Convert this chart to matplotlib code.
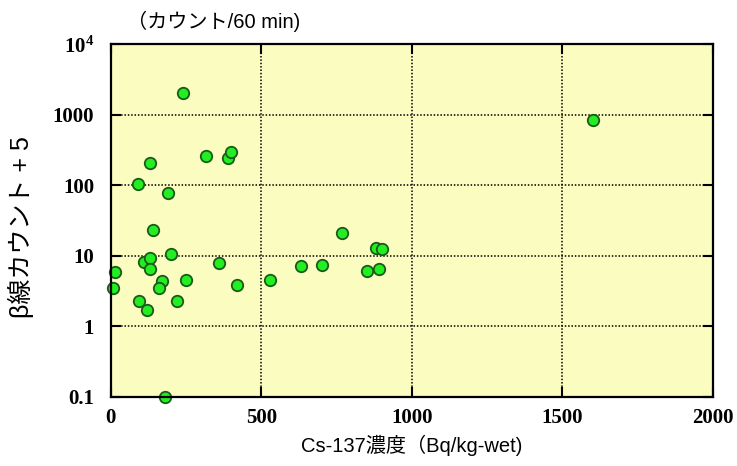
"""
plot.py — Cs-137 concentration vs. beta counts (log scale)

Scatter of beta-ray counts (+5 offset, per 60 min) against Cs-137
concentration in Bq/kg-wet. Saves out.png.
"""

import matplotlib
matplotlib.use("Agg")
import matplotlib.pyplot as plt
from matplotlib.ticker import FixedLocator, FixedFormatter, NullLocator

# ---------------------------------------------------------------------------
# Data
# ---------------------------------------------------------------------------
cs137_conc = [240, 130, 316, 388, 398, 90, 191, 141, 200, 109, 131, 130,
              13, 8, 171, 161, 250, 358, 418, 530, 94, 221, 121, 181,
              768, 880, 900, 631, 702, 850, 890, 1600]
beta_counts = [2060, 210, 256, 243, 299, 104, 77, 23.5, 10.5, 8.2, 9.2, 6.4,
               5.8, 3.5, 4.35, 3.5, 4.5, 7.9, 3.9, 4.5, 2.25, 2.25, 1.7, 0.1,
               21, 13, 12.3, 7.1, 7.5, 6.1, 6.4, 845]

x_ticks = [0, 500, 1000, 1500, 2000]
x_tick_labels = ["0", "500", "1000", "1500", "2000"]
y_ticks = [0.1, 1, 10, 100, 1000, 10000]
y_tick_labels = ["0.1", "1", "10", "100", "1000", r"$\mathbf{10^{4}}$"]

x_label = "Cs-137濃度（Bq/kg-wet)"
y_label = "β線カウント + 5"
unit_note = "（カウント/60 min)"

# ---------------------------------------------------------------------------
# Styling
# ---------------------------------------------------------------------------
JP_FONT = ["Liberation Sans", "Noto Sans CJK JP"]
plt.rcParams["mathtext.fontset"] = "custom"
plt.rcParams["mathtext.rm"] = "Liberation Serif"
plt.rcParams["mathtext.bf"] = "Liberation Serif:bold"

BG = "#fbfcc0"
FILL = "#22ee22"
EDGE = "#1a5a1a"


def draw_chart(output_path):
    fig = plt.figure(figsize=(7.37, 4.66), dpi=100)
    ax = fig.add_axes([0.1502, 0.1487, 0.8172, 0.7563])
    ax.set_facecolor(BG)

    ax.scatter(cs137_conc, beta_counts, s=68, facecolor=FILL, edgecolor=EDGE,
               linewidth=1.3, zorder=3, clip_on=False)

    ax.set_yscale("log")
    ax.set_xlim(0, 2000)
    ax.set_ylim(0.1, 10000)

    ax.xaxis.set_major_locator(FixedLocator(x_ticks))
    ax.xaxis.set_major_formatter(FixedFormatter(x_tick_labels))
    ax.yaxis.set_major_locator(FixedLocator(y_ticks))
    ax.yaxis.set_major_formatter(FixedFormatter(y_tick_labels))
    ax.yaxis.set_minor_locator(NullLocator())

    ax.tick_params(which="major", direction="in", length=7, width=1.5,
                   top=True, right=True, color="black")
    ax.tick_params(axis="y", pad=12)
    ax.tick_params(axis="x", pad=8)
    for lbl in ax.get_xticklabels() + ax.get_yticklabels():
        lbl.set_fontfamily("Liberation Serif")
        lbl.set_fontweight("bold")
        lbl.set_fontsize(15)

    ax.grid(True, which="major", color="black", linestyle=(0, (1, 1.2)),
            linewidth=1.1, zorder=1)
    ax.set_axisbelow(True)

    for spine in ax.spines.values():
        spine.set_linewidth(1.6)
        spine.set_color("black")
        spine.set_zorder(4)

    ax.set_xlabel(x_label, family=JP_FONT, fontsize=14.5, labelpad=5)
    ax.set_ylabel(y_label, family=JP_FONT, fontsize=18, labelpad=12)
    ax.yaxis.set_label_coords(-0.128, 0.48)
    fig.text(0.172, 0.955, unit_note, family=JP_FONT, fontsize=14.5,
             ha="left", va="center")

    fig.savefig(output_path, dpi=100)
    plt.close(fig)


if __name__ == "__main__":
    draw_chart("out.png")
